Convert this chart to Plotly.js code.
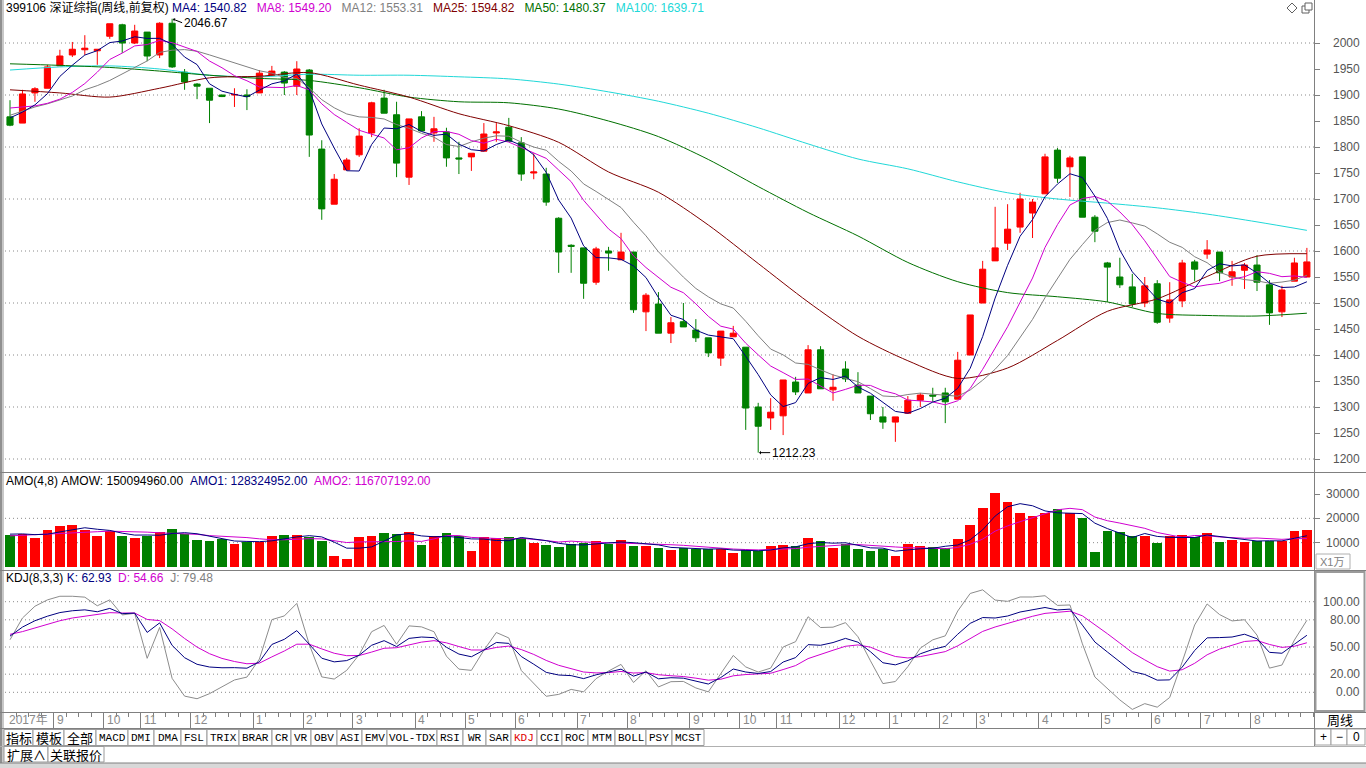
<!DOCTYPE html>
<html>
<head>
<meta charset="utf-8">
<script src="https://cdn.plot.ly/plotly-3.0.1.min.js"></script>
<style>
html,body{margin:0;padding:0;background:#ffffff;overflow:hidden;}
#chart{width:1366px;height:768px;}
</style>
</head>
<body>
<div id="chart"></div>
<script>
// ================= DATA (weekly, 399106 深证综指, 前复权) =================
const openP = [1858,1846,1904,1913,1956,1977,1987,1985,2013,2035,
2000,2021,1977,2038,1944,1921,1913,1900,1900,1900,
1904,1938,1944,1917,1948,1796,1690,1756,1785,1827,
1894,1862,1742,1858,1827,1829,1779,1781,1792,1827,
1838,1808,1750,1748,1663,1611,1606,1540,1600,1583,
1598,1483,1498,1442,1464,1448,1433,1394,1435,1415,
1300,1279,1283,1348,1327,1410,1333,1373,1342,1321,
1281,1271,1288,1313,1323,1327,1315,1400,1500,1581,
1615,1646,1673,1710,1794,1762,1781,1665,1577,1550,
1531,1500,1537,1471,1504,1579,1594,1598,1550,1563,
1573,1535,1483,1542,1550];
const highP = [1890,1910,1915,1958,1987,2002,2015,1988,2037,2037,
2035,2021,2040,2046.67,1950,1923,1913,1900,1913,1911,
1948,1956,1946,1965,1950,1813,1748,1779,1836,1887,
1910,1887,1854,1869,1858,1837,1810,1788,1846,1846,
1856,1819,1788,1760,1665,1613,1606,1608,1608,1635,
1598,1519,1521,1473,1500,1469,1433,1446,1456,1415,
1308,1317,1352,1358,1419,1417,1363,1388,1367,1321,
1300,1281,1321,1327,1337,1337,1406,1477,1581,1685,
1690,1712,1700,1787,1798,1783,1781,1669,1579,1587,
1556,1550,1544,1540,1583,1583,1621,1598,1581,1577,
1592,1544,1533,1587,1606];
const lowP = [1840,1846,1887,1913,1956,1973,1977,1958,2008,1981,
1998,1965,1971,1952,1910,1892,1846,1896,1877,1871,
1904,1937,1900,1900,1781,1660,1690,1756,1781,1819,
1865,1742,1727,1831,1810,1762,1748,1754,1792,1810,
1811,1735,1738,1687,1558,1558,1508,1535,1562,1583,
1481,1446,1442,1423,1454,1425,1396,1379,1435,1256,
1212.23,1256,1246,1323,1327,1335,1312,1348,1327,1275,
1258,1233,1288,1300,1310,1269,1315,1400,1500,1581,
1602,1635,1625,1710,1731,1704,1665,1617,1502,1529,
1492,1492,1460,1462,1492,1542,1585,1542,1533,1527,
1523,1458,1473,1542,1550];
const closeP = [1842,1902,1912,1954,1975,1988,1990,1988,2037,2000,
2023,1975,2038,1954,1925,1917,1890,1897,1901,1897,
1942,1946,1923,1950,1823,1681,1738,1775,1821,1885,
1865,1769,1854,1831,1835,1779,1777,1788,1825,1829,
1811,1748,1752,1694,1598,1609,1538,1604,1596,1598,
1487,1515,1442,1462,1454,1433,1404,1446,1442,1298,
1263,1290,1352,1329,1410,1335,1338,1354,1327,1287,
1271,1281,1313,1323,1321,1310,1390,1477,1565,1606,
1642,1700,1694,1781,1740,1779,1665,1638,1569,1535,
1498,1533,1463,1506,1577,1565,1602,1558,1560,1573,
1540,1481,1525,1577,1579];

// moving averages, one value per week
const ma4 = [1856,1867,1881,1902.5,1935.8,1957.3,1976.8,1985.3,2000.8,2003.8,
2012,2008.8,2009,1997.5,1973,1958.5,1921.5,1907.3,1901.3,1896.3,
1909.3,1921.5,1927,1940.3,1910.5,1844.3,1798,1754.3,1753.8,1804.8,
1836.5,1835,1843.3,1829.8,1822.3,1824.8,1805.5,1794.8,1792.3,1804.8,
1813.3,1803.3,1785,1751.3,1698,1663.3,1609.8,1587.3,1586.8,1584,
1571.3,1549,1510.5,1476.5,1468.3,1447.8,1438.3,1434.3,1431.3,1397.5,
1362.3,1323.3,1300.8,1308.5,1345.3,1356.5,1353,1359.3,1338.5,1326.5,
1309.8,1291.5,1288,1297,1309.5,1316.8,1336,1374.5,1435.5,1509.5,
1572.5,1628.3,1660.5,1704.3,1728.8,1748.5,1741.3,1705.5,1662.8,1601.8,
1560,1533.8,1507.3,1500,1519.8,1527.8,1562.5,1575.5,1571.3,1573.3,
1557.8,1538.5,1529.8,1530.8,1540.82];
const ma8 = [1875,1877,1879,1884,1892,1905,1922,1943.9,1968.3,1980.6,
1994.4,1997,2004.9,2000.7,1992.5,1983.7,1965.3,1952.4,1937.2,1927.4,
1915.4,1914.4,1914.2,1918.3,1909.9,1882.9,1862.5,1847.3,1832.2,1824.6,
1817.3,1794.7,1798.6,1817.3,1829.4,1829.9,1824.4,1812.3,1807.3,1814.8,
1809.4,1799.1,1788.7,1778.1,1755.7,1733.3,1697.4,1669.3,1642.4,1623.7,
1590.6,1568.2,1548.7,1530.3,1519.8,1498.4,1474.4,1455.4,1449.8,1422.7,
1400.3,1378.8,1366.1,1353,1353.8,1339.9,1326.9,1333.9,1341.9,1341.5,
1331.4,1325.4,1313.3,1311.8,1309.7,1304.2,1312,1335.8,1372.5,1413.2,
1454.3,1501.4,1548,1606.9,1650.7,1688.4,1700.9,1704.9,1695.8,1675.2,
1650.7,1619.7,1585.1,1550.9,1539.9,1530.8,1534.9,1537.8,1545.6,1550.6,
1560.2,1557,1550.6,1552.1,1549.20];
const ma12 = [1861,1869,1877,1883,1890,1898,1910,1918,1928,1940,
1953,1965.5,1981.9,1986.2,1987.3,1984.2,1977.1,1969.5,1962.1,1954.5,
1946.6,1942.1,1933.8,1931.7,1913.8,1891,1875.4,1863.6,1857.9,1856.9,
1853.9,1843.2,1835.9,1826.3,1818.9,1804.7,1800.9,1809.8,1817,1821.5,
1820.7,1809.3,1799.9,1793.7,1772.3,1753.8,1729,1714.5,1699.4,1683.6,
1655.4,1629.2,1598.5,1574.6,1549.8,1528,1511.9,1498.3,1490.3,1464.8,
1437,1411.4,1400.2,1384.6,1382,1371.4,1361.7,1355.1,1348.7,1335.4,
1321.2,1319.8,1324,1326.7,1324.1,1322.6,1320.8,1332.7,1351.6,1372.6,
1398.9,1433.3,1468.5,1510.2,1545.8,1583.8,1612.4,1639.8,1654.7,1659.6,
1654,1647.9,1633,1616.8,1607,1589,1577.5,1559.1,1550.4,1545,
1542.6,1538,1540.3,1544,1553.31];
// slow averages, read every 4th week
const slowWeeks = [0,4,8,12,16,20,24,28,32,36,40,44,48,52,56,60,64,68,72,76,80,84,88,92,96,100,104];
const ma25 = [1910,1904,1896,1913,1933,1936,1943,1919,1896,1864,1841,1809,1752,1713,1650,1576,1502,1436,1389,1355,1375,1428,1484,1508,1551,1590,1594.82];
const ma50 = [1960,1957,1953,1946,1938,1932,1928,1914,1896,1887,1885,1873,1850,1820,1776,1724,1674,1629,1578,1541,1520,1512,1502,1480,1476,1475,1480.37];
const ma100 = [1948,1954,1956,1950,1938,1935,1940,1938,1938,1935,1931,1921,1906,1888,1865,1837,1806,1777,1758,1733,1712,1700,1692,1683,1671,1656,1639.71];

// amount (x1万)
const amount = [13150,13560,12060,15210,16850,17260,15210,12740,14930,12740,
12060,12880,14520,15620,13430,11100,10820,11370,9450,10410,
10410,12740,13150,13150,12470,10690,4520,3290,12470,12740,
14110,13430,14520,9040,12740,14110,12740,6580,12470,11780,
12470,11780,10000,9040,8080,9450,9730,10820,9450,11100,
8630,8630,7950,6990,7670,7400,7400,7400,5620,6990,
6710,8630,9040,8770,11780,10690,7950,9450,7400,6710,
7400,4520,9450,8630,8080,7950,11510,17260,24390,30550,
26850,22330,20960,22060,23700,22060,20000,6300,14800,14520,
12880,12880,10000,12880,13150,12470,14110,10410,11100,10410,
10820,10820,10820,14800,15009];
const amo1 = [13500,13600,13300,13495,14420,15345,16133,15515,15035,13905,
13118,13153,13050,13770,14113,13668,12743,11680,10685,10513,
10410,10753,11678,12363,12878,12365,10208,7743,7743,8255,
10653,13188,13700,12775,12433,12603,12158,11543,11475,10893,
10825,12125,11508,10823,9725,9143,9075,9520,9863,10275,
10000,9453,9078,8050,7810,7503,7365,7468,6955,6853,
6680,6988,7843,8288,9555,10070,9798,9968,8873,7878,
7740,6508,7020,7500,7670,8528,9043,11200,15278,20928,
24763,26030,25173,23050,22263,22195,21955,18015,15790,13905,
12125,13770,12570,12160,12228,12125,13153,12535,12023,11508,
10685,10788,10718,11815,12832];
const amo2 = [12800,13000,13200,13400,13700,14000,14300,14505,14728,14625,
14626,14334,14043,13838,13616,13411,12897,12725,12399,12091,
11577,11217,11182,11438,11644,11559,10943,10053,10311,10310,
10431,10466,10722,10515,11543,12896,12929,12159,11954,11748,
11492,11834,11492,10858,10275,10634,10292,10172,9794,9709,
9538,9487,9471,9163,8905,8478,8222,7759,7383,7178,
7023,7228,7399,7571,8118,8529,8821,9128,9214,8974,
8769,8238,7947,7689,7705,7518,8032,9350,11474,14728,
16903,18615,20226,21989,23513,24113,23564,20533,19027,18050,
17040,15893,14180,13033,12177,12948,12862,12348,12126,11817,
11919,11662,11371,11662,11671];

// KDJ(8,3,3), one value per week
const kLine = [62,72,79,84,88,90,91,88.9,92.6,86.8,
87.4,66.1,76.6,51.8,38.2,30.9,27.9,27.1,27.2,26.6,
33.7,52.8,58.5,68.1,53,37.6,33.6,35,40.9,51.9,
57,50.5,59.5,61,60.3,49.7,42.2,39.2,46.6,55,
54,39.5,31,22,19.1,18.4,15.1,19.3,22.3,25.6,
17.8,22.4,14.9,16.1,15.6,12,9.1,16.3,25.7,22.4,
20.8,22.9,33.4,38.3,52.6,51.9,54.9,59.5,55.3,44.8,
32.6,30.3,34.7,42.5,47.3,50.7,64.1,76.1,82.5,82,
84.2,88.6,91,93.6,90.9,91.8,74.1,55.5,44.5,33.4,
22.9,19.7,13.4,13.7,27.8,46.1,60.1,60.4,61,64.1,
59.1,44.1,43.1,53.1,62.93];
const dLine = [64,67,71,75,79,82,84,85.6,87.9,87.5,
87.5,80.4,79.1,70,59.4,49.9,42.6,37.4,34,31.5,
32.2,39.1,45.6,53.1,53.1,47.9,43.1,40.4,40.6,44.4,
48.6,49.2,52.6,55.4,57,54.6,50.5,46.7,46.7,49.5,
51,47.2,41.8,35.2,29.8,26,22.4,21.4,21.7,23,
21.3,21.7,19.4,18.3,17.4,15.6,13.4,14.4,18.2,19.6,
20,21,25.1,29.5,37.2,42.1,46.4,50.8,52.3,49.8,
44.1,39.5,37.9,39.4,42,44.9,51.3,59.6,67.2,72.1,
76.1,80.3,83.9,87.1,88.4,89.5,84.4,74.8,64.7,54.3,
43.8,35.8,28.3,23.4,24.9,32,41.4,47.7,52.1,56.1,
57.1,52.8,49.6,50.8,54.66];
const jLine = [58,82,95,102,106,106,105,95.5,102,85.4,
87.2,37.5,71.6,15.4,-4.2,-7.1,-1.5,6.5,13.6,16.8,
36.7,80.2,84.3,98.1,52.8,17,14.6,24.2,41.5,66.9,
73.8,53.1,73.3,72.2,66.9,39.9,25.6,24.2,46.4,66,
60,24.1,9.4,-4.4,-2.3,3.2,0.5,15.1,23.5,30.8,
10.8,23.8,5.9,11.7,12,4.8,0.5,20.1,40.7,28,
22.4,26.7,50,55.9,83.4,71.5,71.9,76.9,61.3,34.8,
9.6,11.9,28.3,48.7,57.9,62.3,89.7,109.1,113.1,101.8,
100.4,105.2,105.2,106.6,95.9,96.4,53.5,16.9,4.1,-8.4,
-18.9,-12.5,-16.4,-5.7,33.6,74.3,97.5,85.8,78.8,80.1,
63.1,26.7,30.1,57.7,79.48];

// time axis: month boundaries (between weeks) and labels
const monthStarts = [3.5,7.5,10.5,14.5,19.5,23.5,27.5,32.5,36.5,40.5,45.5,49.5,54.5,58.5,61.5,66.5,70.5,74.5,77.5,82.5,87.5,91.5,95.5,99.5];
const monthLabels = ['9','10','11','12','1','2','3','4','5','6','7','8','9','10','11','12','1','2','3','4','5','6','7','8'];
const yearLabel = '2017年';

const priceTicks = [1200,1250,1300,1350,1400,1450,1500,1550,1600,1650,1700,1750,1800,1850,1900,1950,2000];
const priceGrid = [1200,1300,1400,1500,1600,1700,1800,1900,2000];
const volTicks = [10000,20000,30000];
const volGrid = [10000,20000];
const kdjTicks = [0,20,50,80,100];
const kdjTickText = ['0.00','20.00','50.00','80.00','100.00'];

const tabs = ['指标','模板','全部','MACD','DMI','DMA','FSL','TRIX','BRAR','CR','VR','OBV','ASI','EMV','VOL-TDX','RSI','WR','SAR','KDJ','CCI','ROC','MTM','BOLL','PSY','MCST'];
const tabs2 = ['扩展∧','关联报价'];

// ================= LAYOUT GEOMETRY (pixels) =================
const W = 1366, H = 768;
const px = x => x / W;
const py = y => 1 - y / H;
const PL = 4, PR = 1314;           // plot left/right
const FIRST = 10, SLOT = 12.47;    // first candle centre, spacing
const xIdx = x => (x - FIRST) / SLOT;
const priceAt = y => 2000 - (y - 43) / 0.52;
const volAt = y => (567 - y) / 24.33 * 10000;
const kdjAt = y => (692.3 - y) / 0.906;
const tabEdges = [[4,33],[33,64],[64,96],[96,128],[128,154],[154,181],[181,207],[207,239],[239,272],[272,291],[291,311],[311,337],[337,362],[362,387],[387,437],[437,463],[463,486],[486,511],[511,537],[537,562],[562,588],[588,615],[615,646],[646,672],[672,704]];
const tab2Edges = [[4,48],[48,104]];

const RED = '#FF0000', GREEN = '#008000';
const C_MA4 = '#000080', C_MA8 = '#D000D0', C_MA12 = '#808080', C_MA25 = '#800000', C_MA50 = '#007000', C_MA100 = '#20D8D8';
const FONT = 'Liberation Sans, Arial, Noto Sans CJK SC, sans-serif';
const GRIDC = '#8a8a8a', AXC = '#808080', TXC = '#555555';

const weeks = openP.map((_, i) => i);
const barColors = closeP.map((c, i) => c >= openP[i] ? RED : GREEN);

// ================= TRACES =================
const traces = [];
traces.push({
  type: 'candlestick', x: weeks, open: openP, high: highP, low: lowP, close: closeP,
  xaxis: 'x', yaxis: 'y', whiskerwidth: 0, hoverinfo: 'skip', showlegend: false,
  increasing: {line: {color: RED, width: 1}, fillcolor: RED},
  decreasing: {line: {color: GREEN, width: 1}, fillcolor: GREEN}
});
function line(x, y, color, ax, shape) {
  return {type: 'scatter', mode: 'lines', x: x, y: y, xaxis: 'x', yaxis: ax,
    line: {color: color, width: 1, shape: shape || 'linear', smoothing: 0.8},
    hoverinfo: 'skip', showlegend: false};
}
traces.push(line(slowWeeks, ma100, C_MA100, 'y', 'spline'));
traces.push(line(slowWeeks, ma50, C_MA50, 'y', 'spline'));
traces.push(line(slowWeeks, ma25, C_MA25, 'y', 'spline'));
traces.push(line(weeks, ma12, C_MA12, 'y'));
traces.push(line(weeks, ma8, C_MA8, 'y'));
traces.push(line(weeks, ma4, C_MA4, 'y'));

traces.push({type: 'bar', x: weeks, y: amount, xaxis: 'x', yaxis: 'y2', width: 0.78,
  marker: {color: barColors, line: {width: 0}}, hoverinfo: 'skip', showlegend: false});
traces.push(line(weeks, amo2, C_MA8, 'y2'));
traces.push(line(weeks, amo1, C_MA4, 'y2'));

traces.push(line(weeks, jLine, '#8c8c8c', 'y3'));
traces.push(line(weeks, dLine, C_MA8, 'y3'));
traces.push(line(weeks, kLine, C_MA4, 'y3'));

// ================= SHAPES =================
const shapes = [];
function hl(y, x0, x1, color, w) { shapes.push({type:'line', xref:'paper', yref:'paper', x0:px(x0), x1:px(x1), y0:py(y), y1:py(y), line:{color:color, width:w||1}}); }
function vl(x, y0, y1, color, w) { shapes.push({type:'line', xref:'paper', yref:'paper', x0:px(x), x1:px(x), y0:py(y0), y1:py(y1), line:{color:color, width:w||1}}); }
function rect(x0, y0, x1, y1, lc, fc, w) { shapes.push({type:'rect', xref:'paper', yref:'paper', x0:px(x0), x1:px(x1), y0:py(y1), y1:py(y0), line:{color:lc, width:w===undefined?1:w}, fillcolor:fc||'rgba(0,0,0,0)'}); }

priceGrid.forEach(v => shapes.push({type:'line', xref:'paper', yref:'y', x0:px(PL+1), x1:px(PR), y0:v, y1:v, line:{color:GRIDC, width:1, dash:'1px,3px'}, layer:'below'}));
volGrid.forEach(v => shapes.push({type:'line', xref:'paper', yref:'y2', x0:px(PL+1), x1:px(PR), y0:v, y1:v, line:{color:GRIDC, width:1, dash:'1px,3px'}, layer:'below'}));
kdjTicks.forEach(v => shapes.push({type:'line', xref:'paper', yref:'y3', x0:px(PL+1), x1:px(PR), y0:v, y1:v, line:{color:GRIDC, width:1, dash:'1px,3px'}, layer:'below'}));

// frame lines
rect(0, 0, 2.5, 768, 'rgba(0,0,0,0)', '#909090', 0);
vl(3.5, 0, 763, '#c8c8c8', 1);
vl(PR + 0.5, 0, 746, AXC, 1);
hl(472.5, 0, W, AXC, 1);
hl(570.5, 0, W, AXC, 1);
hl(712.5, 0, W, AXC, 1);
hl(728.5, 0, W, AXC, 1);
hl(746.5, 0, W, '#b0b0b0', 1);
rect(0, 763, W, 768, 'rgba(0,0,0,0)', '#d8d8d8', 0);
hl(763, 0, W, AXC, 1);
// KDJ value column box
rect(PR + 1.5, 572, W - 1.5, 711, '#9a9a9a', null, 2);
// X1万 box
rect(PR + 2, 554, 1350, 569, '#b0b0b0', '#ffffff', 1);
// +/-/0 buttons
rect(PR + 1, 729, 1331, 745, '#a0a0a0', '#ffffff', 1);
rect(1331, 729, 1347, 745, '#a0a0a0', '#ffffff', 1);
rect(1347, 729, 1365, 745, '#a0a0a0', '#ffffff', 1);
// tabs
tabEdges.forEach(e => rect(e[0], 729.5, e[1], 745.5, '#9a9a9a', '#ffffff', 1));
tab2Edges.forEach(e => rect(e[0], 746.5, e[1], 762, '#9a9a9a', '#ffffff', 1));
// top right icons: diamond and restore
shapes.push({type:'path', xref:'paper', yref:'paper',
  path: `M${px(1287)},${py(8)} L${px(1292)},${py(3)} L${px(1297)},${py(8)} L${px(1292)},${py(13)} Z`,
  line:{color:'#606060', width:1}});
rect(1302, 6, 1309, 13, '#606060', '#ffffff', 1);
rect(1305, 3, 1312, 10, '#606060', '#ffffff', 1);

// ================= ANNOTATIONS =================
const ann = [];
function txt(x, y, text, opts) {
  ann.push(Object.assign({xref:'paper', yref:'paper', x:px(x), y:py(y), text:text, showarrow:false,
    xanchor:'left', yanchor:'middle', font:{family:FONT, size:12, color:'#000000'}}, opts || {}));
}
const sp = '\u00A0';
const span = (c, t) => `<span style="color:${c}">${t}</span>`;
txt(4, 8, span('#000000', '399106 深证综指(周线,前复权)') + sp + span(C_MA4, 'MA4: 1540.82') + sp + sp + sp +
  span(C_MA8, 'MA8: 1549.20') + sp + sp + sp + span(C_MA12, 'MA12: 1553.31') + sp + sp + sp +
  span(C_MA25, 'MA25: 1594.82') + sp + sp + sp + span(C_MA50, 'MA50: 1480.37') + sp + sp + sp + span(C_MA100, 'MA100: 1639.71'));
txt(4, 481, span('#000000', 'AMO(4,8)') + sp + span('#000000', 'AMOW: 150094960.00') + sp + sp +
  span(C_MA4, 'AMO1: 128324952.00') + sp + sp + span(C_MA8, 'AMO2: 116707192.00'));
txt(4, 578, span('#000000', 'KDJ(8,3,3)') + sp + span(C_MA4, 'K: 62.93') + sp + sp +
  span(C_MA8, 'D: 54.66') + sp + sp + span('#808080', 'J: 79.48'));

// axis tick labels (right aligned)
priceTicks.forEach(v => ann.push({xref:'paper', yref:'y', x:px(1362), y:v, text:String(v), showarrow:false, xanchor:'right', yanchor:'middle', font:{family:FONT, size:12, color:TXC}}));
volTicks.forEach(v => ann.push({xref:'paper', yref:'y2', x:px(1362), y:v, text:String(v), showarrow:false, xanchor:'right', yanchor:'middle', font:{family:FONT, size:12, color:TXC}}));
kdjTicks.forEach((v, i) => ann.push({xref:'paper', yref:'y3', x:px(1362), y:v, text:kdjTickText[i], showarrow:false, xanchor:'right', yanchor:'middle', font:{family:FONT, size:12, color:TXC}}));

// date row
txt(7, 720, yearLabel, {font:{family:FONT, size:12, color:'#8a8a8a'}});
monthStarts.forEach((m, i) => ann.push({xref:'x', yref:'paper', x:m, y:py(720), xshift:1, text:monthLabels[i], showarrow:false, xanchor:'left', yanchor:'middle', font:{family:FONT, size:12, color:'#8a8a8a'}}));
txt(1340, 720, '周线', {xanchor:'center', font:{family:FONT, size:13, color:'#000000'}});
txt(1332, 562, 'X1万', {xanchor:'center', font:{family:FONT, size:11, color:'#808080'}});
txt(1323, 737, '+', {xanchor:'center', font:{family:FONT, size:12, color:'#000'}});
txt(1339, 737, '\u2212', {xanchor:'center', font:{family:FONT, size:12, color:'#000'}});
txt(1356, 737, '0', {xanchor:'center', font:{family:FONT, size:12, color:'#000'}});

// extreme marks
const hiIdx = highP.indexOf(Math.max(...highP));
const loIdx = lowP.indexOf(Math.min(...lowP));
ann.push({xref:'x', yref:'y', x:hiIdx, y:highP[hiIdx], text:highP[hiIdx].toFixed(2), showarrow:true,
  ax:10, ay:4, axref:'pixel', ayref:'pixel', xanchor:'left', yanchor:'middle', arrowhead:1, arrowsize:0.6, arrowwidth:1, arrowcolor:'#000', standoff:1,
  font:{family:FONT, size:12, color:'#000'}});
ann.push({xref:'x', yref:'y', x:loIdx, y:lowP[loIdx], text:lowP[loIdx].toFixed(2), showarrow:true,
  ax:12, ay:0, axref:'pixel', ayref:'pixel', xanchor:'left', yanchor:'middle', arrowhead:1, arrowsize:0.6, arrowwidth:1, arrowcolor:'#000', standoff:1,
  font:{family:FONT, size:12, color:'#000'}});

// tabs text
tabs.forEach((t, i) => {
  const e = tabEdges[i];
  const cjk = /[\u4e00-\u9fff]/.test(t);
  ann.push({xref:'paper', yref:'paper', x:px((e[0] + e[1]) / 2), y:py(737.5), text:t, showarrow:false, xanchor:'center', yanchor:'middle',
    font:{family: cjk ? 'Noto Sans CJK SC, sans-serif' : 'Liberation Mono, DejaVu Sans Mono, monospace', size: cjk ? 13 : 11, color: t === 'KDJ' ? '#E00000' : '#000000'}});
});
tabs2.forEach((t, i) => {
  const e = tab2Edges[i];
  ann.push({xref:'paper', yref:'paper', x:px((e[0] + e[1]) / 2), y:py(754.5), text:t, showarrow:false, xanchor:'center', yanchor:'middle',
    font:{family:'Noto Sans CJK SC, sans-serif', size:13, color:'#000000'}});
});

// ================= LAYOUT =================
const layout = {
  width: W, height: H, autosize: false,
  margin: {l: 0, r: 0, t: 0, b: 0, pad: 0},
  paper_bgcolor: '#ffffff', plot_bgcolor: '#ffffff',
  showlegend: false, bargap: 0, dragmode: false, hovermode: false,
  font: {family: FONT, size: 12, color: '#000'},
  xaxis: {
    domain: [px(PL), px(PR)], range: [xIdx(PL), xIdx(PR)], anchor: 'y3',
    showgrid: false, zeroline: false, showline: false, fixedrange: true,
    rangeslider: {visible: false},
    tickmode: 'array', tickvals: monthStarts, showticklabels: false,
    ticks: 'outside', ticklen: 16, tickwidth: 1, tickcolor: AXC,
    minor: {tickmode: 'linear', tick0: 0.5, dtick: 1, ticks: 'outside', ticklen: 4, tickwidth: 1, tickcolor: AXC, showgrid: false}
  },
  yaxis: {
    domain: [py(471), py(14)], range: [priceAt(471), priceAt(14)], anchor: 'x', side: 'right',
    showgrid: false, zeroline: false, showline: false, fixedrange: true,
    tickmode: 'array', tickvals: priceTicks, showticklabels: false,
    ticks: 'outside', ticklen: 5, tickwidth: 1, tickcolor: AXC
  },
  yaxis2: {
    domain: [py(567), py(474)], range: [0, volAt(474)], anchor: 'x', side: 'right',
    showgrid: false, zeroline: false, showline: false, fixedrange: true,
    tickmode: 'array', tickvals: volTicks, showticklabels: false,
    ticks: 'outside', ticklen: 5, tickwidth: 1, tickcolor: AXC
  },
  yaxis3: {
    domain: [py(712), py(572)], range: [kdjAt(712), kdjAt(572)], anchor: 'x', side: 'right',
    showgrid: false, zeroline: false, showline: false, fixedrange: true,
    tickmode: 'array', tickvals: kdjTicks, showticklabels: false, ticks: ''
  },
  shapes: shapes,
  annotations: ann
};

Plotly.newPlot('chart', traces, layout, {staticPlot: true, displayModeBar: false, responsive: false});
</script>
</body>
</html>
